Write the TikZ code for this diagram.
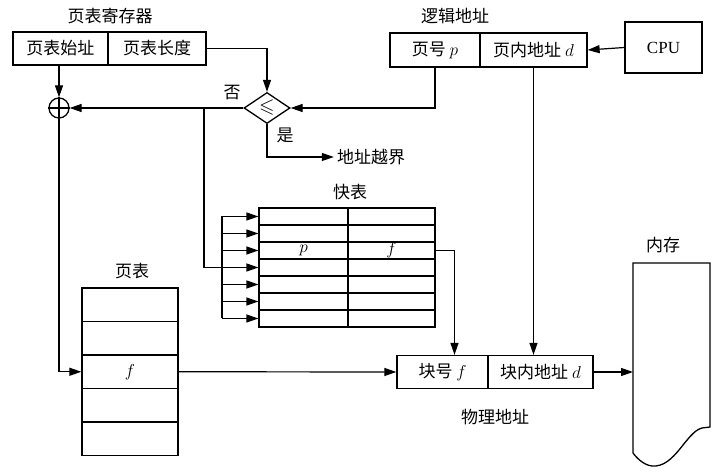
\documentclass[tikz,border=0pt]{standalone}
\usepackage{amsmath, amssymb}
\usepackage{fontspec}
\setmainfont{Liberation Serif}
\newfontfamily\cjk{Noto Sans CJK SC}
\usepackage{tikz}
\usetikzlibrary{arrows.meta, shapes, backgrounds}

\begin{document}
\begin{tikzpicture}[x=1pt, y=-1pt, font=\cjk\fontsize{17}{20}\selectfont,
  background rectangle/.style={fill=white}, show background rectangle, inner frame sep=0pt]
\useasboundingbox (0,0) rectangle (724,473);

\begin{scope}[every node/.style={rectangle, draw, line width=1.3pt, inner sep=0pt, minimum height=33pt}]
  \node[minimum width=95pt] (base) at (60.5,48.5) {页表始址};
  \node[minimum width=98pt] (len) at (157,48.5) {页表长度};
  \node[minimum width=90pt, minimum height=34pt] (pno) at (435,50) {页号 $p$};
  \node[minimum width=107pt, minimum height=34pt] (off) at (533.5,50) {页内地址 $d$};
  \node[minimum width=77pt, minimum height=51pt, font=\rmfamily\fontsize{17}{20}\selectfont] (cpu) at (663.5,47.5) {CPU};
  \node[minimum width=91pt] (bno) at (442.5,372) {块号 $f$};
  \node[minimum width=105pt] (boff) at (540.5,372) {块内地址 $d$};
  \node[shape=diamond, minimum width=46pt, minimum height=30pt, font=\fontsize{20}{22}\selectfont] (cmp) at (267,108) {$\leqslant$};
  \node[shape=circle, minimum size=20pt] (sum) at (59,108) {};
\end{scope}
\draw[line width=1.3pt] (sum.north) -- (sum.south) (sum.west) -- (sum.east);

% fast table
\begin{scope}[every node/.style={rectangle, draw, line width=1.2pt, inner sep=0pt, minimum height=17pt}]
\foreach \i in {1,...,7} {
  \node[minimum width=89pt] (tl\i) at (303.5,199.5+17*\i) {};
  \node[minimum width=87pt] (tr\i) at (391.5,199.5+17*\i) {};
}
% page table
\foreach \i in {1,...,5}
  \node[minimum width=96pt, minimum height=33.5pt, line width=1.3pt] (pt\i) at (130,271.25+33.5*\i) {};
\end{scope}
\node (tp) at (tl3) {$p$};
\node (tf) at (tr3) {$f$};
\node (pf) at (pt3) {$f$};

% memory
\draw[line width=1.3pt] (633,263) -- (710,263) -- (710,427) -- (702,428)
  .. controls (686,432) and (675,468) .. (652,466)
  .. controls (643,465) and (636,457) .. (633,453) -- cycle;
\coordinate (mem) at (633,372);

\begin{scope}[every node/.style={inner sep=3pt}]
  \node (regl) at (110,16) {页表寄存器};
  \node (logl) at (455,16) {逻辑地址};
  \node (tlbl) at (350,192) {快表};
  \node (ptl) at (132,271) {页表};
  \node (meml) at (663,245) {内存};
  \node (phyl) at (495,417) {物理地址};
  \node (no) at (232,93) {否};
  \node (yes) at (285,135) {是};
  \node (over) at (371,157) {地址越界};
\end{scope}

\begin{scope}[>={Triangle[length=12pt,width=8pt]}, line width=1.2pt]
  \draw[->] (base.south -| sum) -- (sum.north);
  \draw[->] (len.east) -| (cmp.north);
  \draw[->] (pno.south) |- (cmp.east);
  \draw[->] (cmp.west) -- (sum.east);
  \draw[->] (cmp.south) |- (over.west);
  \draw[->] (cpu.west) -- (off.east);
  \draw[->] (sum.south) |- (pt3.west);
  \draw[->] (off.south) -- (off.south |- boff.north);
  \coordinate (jn) at (204,108);
  \draw[->] (jn) |- (tl4.west);
  \coordinate (comb) at (222,0);
  \draw (comb |- tl1.west) -- (comb |- tl7.west);
  \foreach \i in {1,2,3,5,6,7}
    \draw[->] (comb |- tl\i.west) -- (tl\i.west);
  \draw[->] (tr3.east) -| ([xshift=12pt]bno.north);
  \draw[->] (pt3.east) -- (bno.west);
  \draw[->] (boff.east) -- (mem);
\end{scope}

\end{tikzpicture}
\end{document}
